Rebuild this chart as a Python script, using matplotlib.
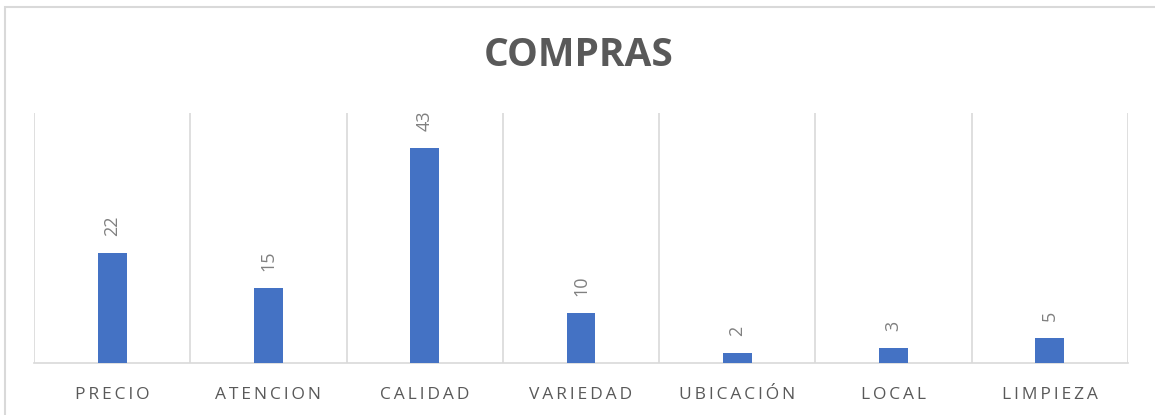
import matplotlib.pyplot as plt
from matplotlib.patches import Rectangle

categorias = ['PRECIO', 'ATENCION', 'CALIDAD', 'VARIEDAD', 'UBICACIÓN', 'LOCAL', 'LIMPIEZA']
valores = [22, 15, 43, 10, 2, 3, 5]


def espaciar(texto):
    # Excel separa las letras de las etiquetas
    return '\u2009'.join(texto)


def main():
    plt.rcParams['font.family'] = ['Open Sans', 'DejaVu Sans']
    fig = plt.figure(figsize=(11.55, 4.15), dpi=100)
    ax = fig.add_axes([34 / 1155, 52 / 415, 1094 / 1155, 250 / 415])

    x = list(range(len(categorias)))
    barras = ax.bar(x, valores, width=0.185, color='#4472C4', zorder=3)
    ax.bar_label(barras, labels=[str(v) for v in valores], rotation=90,
                 padding=12, fontsize=13, color='#808080')

    ax.set_xlim(-0.5, len(categorias) - 0.5)
    ax.set_ylim(0, 50)
    for i in range(len(categorias) + 1):
        ax.axvline(i - 0.5, color='#d9d9d9', lw=1.2, zorder=1)

    ax.set_xticks(x)
    ax.set_xticklabels([espaciar(c) for c in categorias], fontsize=12.5, color='#595959')
    ax.tick_params(axis='x', length=0, pad=17)
    ax.set_yticks([])
    for lado in ['top', 'left', 'right']:
        ax.spines[lado].set_visible(False)
    ax.spines['bottom'].set_color('#d9d9d9')
    ax.spines['bottom'].set_linewidth(1.2)

    fig.text(579 / 1155, 1 - 55 / 415, 'COMPRAS', ha='center', va='center',
             fontsize=28, fontweight='bold', color='#595959')

    borde = Rectangle((5 / 1155, -0.1), 1.1, 0.1 + 1 - 7 / 415, transform=fig.transFigure,
                      fill=False, edgecolor='#d9d9d9', lw=1.5)
    fig.patches.append(borde)

    fig.savefig('out.png', dpi=100)


if __name__ == "__main__":
    main()
